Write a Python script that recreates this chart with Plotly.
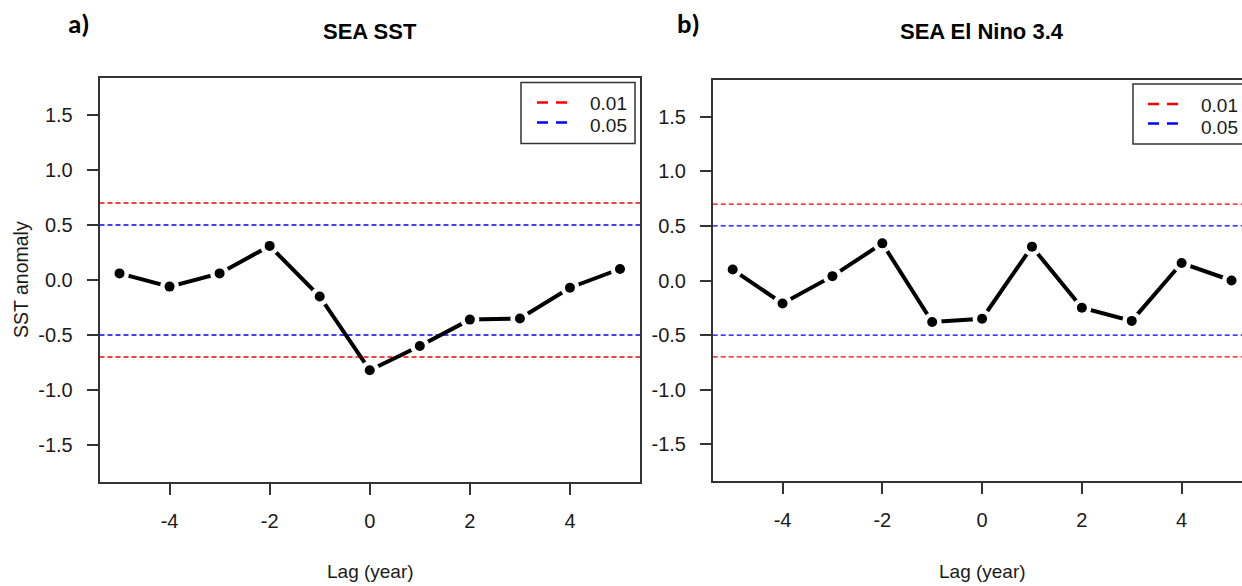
import plotly.graph_objects as go

W, H = 1242, 586

# ---------------- data ----------------
lags = [-5, -4, -3, -2, -1, 0, 1, 2, 3, 4, 5]
sea_sst = [0.06, -0.06, 0.06, 0.31, -0.15, -0.82, -0.60, -0.36, -0.35, -0.07, 0.10]
sea_nino = [0.10, -0.21, 0.04, 0.34, -0.38, -0.35, 0.31, -0.25, -0.37, 0.16, 0.00]

thr_labels = ["0.01", "0.05"]
thr_values = [0.7, 0.5]
thr_colors = ["#ff0000", "#0000ff"]

x_tickvals = [-4, -2, 0, 2, 4]
x_ticktext = ["-4", "-2", "0", "2", "4"]
y_tickvals = [-1.5, -1.0, -0.5, 0.0, 0.5, 1.0, 1.5]
y_ticktext = ["-1.5", "-1.0", "-0.5", "0.0", "0.5", "1.0", "1.5"]

panel_titles = ["SEA SST", "SEA El Nino 3.4"]
panel_tags = ["a)", "b)"]
x_title = "Lag (year)"
y_title = "SST anomaly"

# ---------------- styling / layout ----------------
SANS = "Liberation Sans, Arial, sans-serif"
TAGF = "Carlito, Lato, Liberation Sans, Arial, sans-serif"
AX = "#333333"
TXT = "#1a1a1a"


def px(x):
    return x / W


def py(y):
    return 1 - y / H


panels = [
    dict(data=sea_sst, xdom=(99.5, 640), ydom=(78, 482), xr=[-5.4, 5.4], mirror_y=True,
         title_x=370, tag_x=79, xt_x=370,
         leg=dict(x0=521, x1=635, y0=82.5, y1=143.5, lx0=537, lx1=567, ly=[102.5, 122.5],
                  ty=[103.5, 125.5], tx=588)),
    dict(data=sea_nino, xdom=(712.7, 1242), ydom=(80, 481), xr=[-5.4, 5.21], mirror_y=False,
         title_x=982, tag_x=688, xt_x=982,
         leg=dict(x0=1133, x1=1262, y0=84, y1=144, lx0=1148, lx1=1179, ly=[104, 123.5],
                  ty=[105, 127], tx=1199)),
]

fig = go.Figure()
shapes = []
annotations = []
YR = [-1.836, 1.836]

for i, p in enumerate(panels):
    n = "" if i == 0 else str(i + 1)
    xa, ya = "x" + n, "y" + n
    vals = p["data"]
    fig.add_trace(go.Scatter(x=lags, y=vals, mode="lines", xaxis=xa, yaxis=ya,
                             line=dict(color="black", width=4), showlegend=False, hoverinfo="skip"))
    fig.add_trace(go.Scatter(x=lags, y=vals, mode="markers", xaxis=xa, yaxis=ya,
                             marker=dict(color="white", size=19, line=dict(width=0)),
                             showlegend=False, hoverinfo="skip"))
    fig.add_trace(go.Scatter(x=lags, y=vals, mode="markers", xaxis=xa, yaxis=ya,
                             marker=dict(color="black", size=10, line=dict(width=0)),
                             showlegend=False))

    axis_common = dict(showline=True, linecolor=AX, linewidth=1.5, ticks="outside",
                       ticklen=11, tickwidth=1.5, tickcolor=AX, showgrid=False, zeroline=False,
                       tickfont=dict(family=SANS, size=20, color=TXT))
    fig.update_layout(**{
        ("xaxis" + n): dict(axis_common, domain=[px(p["xdom"][0]), px(p["xdom"][1])],
                            range=p["xr"], tickvals=x_tickvals, ticktext=x_ticktext,
                            mirror=True, anchor=ya, ticklabelstandoff=9),
        ("yaxis" + n): dict(axis_common, domain=[py(p["ydom"][1]), py(p["ydom"][0])],
                            range=YR, tickvals=y_tickvals, ticktext=y_ticktext,
                            mirror=p["mirror_y"], anchor=xa, ticklabelstandoff=10),
    })

    # threshold lines (+/-)
    for v, c in zip(thr_values, thr_colors):
        for s in (1, -1):
            shapes.append(dict(type="line", xref=xa + " domain", yref=ya, x0=0, x1=1,
                               y0=s * v, y1=s * v, layer="below",
                               line=dict(color=c, width=1.3, dash="5px,3px")))

    # legend box drawn manually (R-style)
    L = p["leg"]
    shapes.append(dict(type="rect", xref="paper", yref="paper",
                       x0=px(L["x0"]), x1=px(L["x1"]), y0=py(L["y1"]), y1=py(L["y0"]),
                       fillcolor="white", line=dict(color=AX, width=1.5), layer="above"))
    for lab, c, ly, ty in zip(thr_labels, thr_colors, L["ly"], L["ty"]):
        shapes.append(dict(type="line", xref="paper", yref="paper",
                           x0=px(L["lx0"]), x1=px(L["lx1"]), y0=py(ly), y1=py(ly),
                           line=dict(color=c, width=2.5, dash="11px,8px"), layer="above"))
        annotations.append(dict(text=lab, xref="paper", yref="paper", x=px(L["tx"]), y=py(ty),
                                xanchor="left", yanchor="middle", showarrow=False,
                                font=dict(family=SANS, size=19, color=TXT)))

    # titles and labels
    annotations.append(dict(text="<b>" + panel_titles[i] + "</b>", xref="paper", yref="paper",
                            x=px(p["title_x"]), y=py(31), xanchor="center", yanchor="middle",
                            showarrow=False, font=dict(family=SANS, size=22, color="black")))
    annotations.append(dict(text="<b>" + panel_tags[i] + "</b>", xref="paper", yref="paper",
                            x=px(p["tag_x"]), y=py(23), xanchor="center", yanchor="middle",
                            showarrow=False, font=dict(family=TAGF, size=27, color="black")))
    annotations.append(dict(text=x_title, xref="paper", yref="paper",
                            x=px(p["xt_x"]), y=py(571), xanchor="center", yanchor="middle",
                            showarrow=False, font=dict(family=SANS, size=19, color=TXT)))

annotations.append(dict(text=y_title, xref="paper", yref="paper", x=px(21), y=py(280),
                        textangle=-90, xanchor="center", yanchor="middle", showarrow=False,
                        font=dict(family=SANS, size=19.5, color=TXT)))

fig.update_layout(
    width=W, height=H,
    margin=dict(l=0, r=0, t=0, b=0, autoexpand=False),
    paper_bgcolor="white", plot_bgcolor="white",
    showlegend=False,
    shapes=shapes, annotations=annotations,
)

fig.write_html("out.html")
